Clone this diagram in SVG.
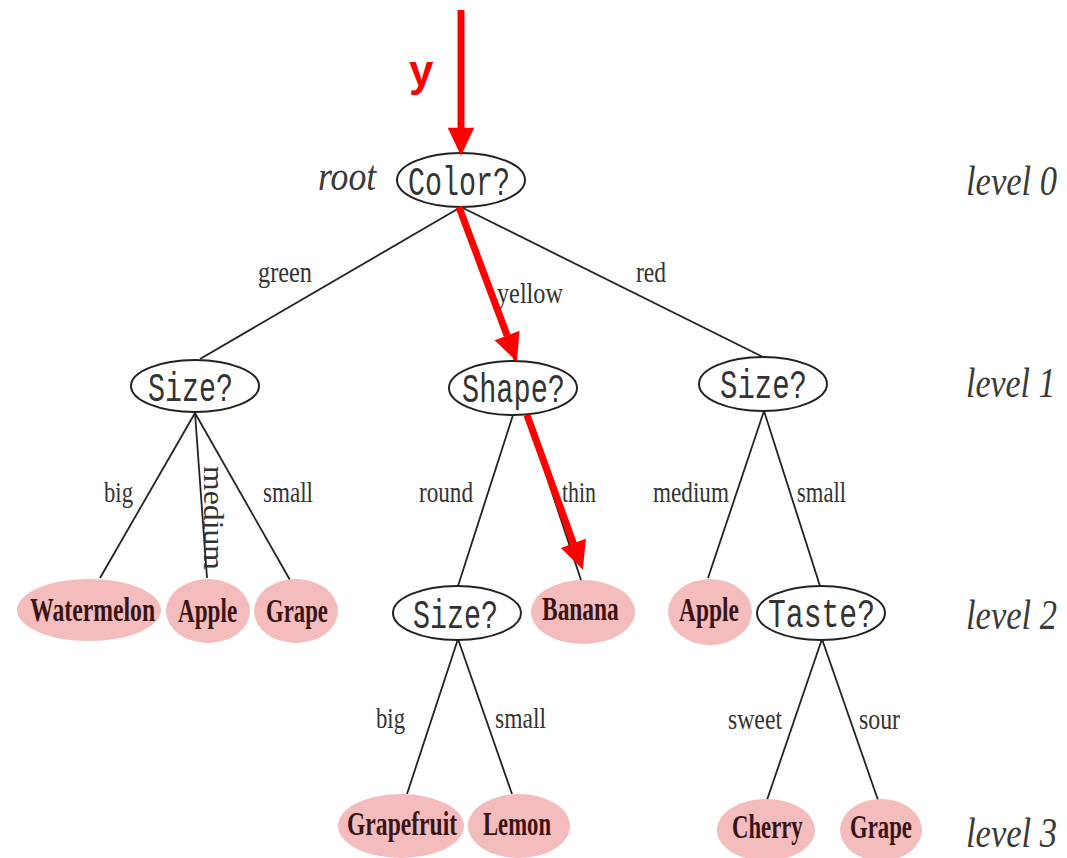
<svg xmlns="http://www.w3.org/2000/svg" width="1067" height="858" viewBox="0 0 1067 858">
<style>
.q{fill:#fff;stroke:#222;stroke-width:2}
.leaf{fill:#f4bcbc;stroke:none}
.qt{font-family:"Liberation Mono",monospace;font-size:40px;fill:#333}
.lt{font-family:"Liberation Serif",serif;font-weight:bold;font-size:34px;fill:#3a1414}
.el{font-family:"Liberation Serif",serif;font-size:30px;fill:#333}
.lv{font-family:"Liberation Serif",serif;font-style:italic;font-size:42px;fill:#3a3a3a}
.e{stroke:#222;stroke-width:1.8;fill:none}
.r{stroke:#f00;stroke-width:7;fill:none;marker-end:url(#ah)}
</style>
<defs>
<marker id="ah" markerUnits="strokeWidth" markerWidth="4" markerHeight="4" refX="0.05" refY="1.9" orient="auto" overflow="visible">
<path d="M0,0 L4,1.9 L0,3.8 z" fill="#f00"/>
</marker>
</defs>
<rect width="1067" height="858" fill="#fff"/>
<g id="connectors">
<line class="e" x1="461" y1="207" x2="200" y2="359"/>
<line class="e" x1="461" y1="207" x2="515" y2="361"/>
<line class="e" x1="461" y1="207" x2="763" y2="357"/>
<line class="e" x1="195" y1="413" x2="100" y2="578"/>
<line class="e" x1="195" y1="413" x2="207" y2="578"/>
<line class="e" x1="195" y1="413" x2="290" y2="580"/>
<line class="e" x1="513" y1="415" x2="458" y2="586"/>
<line class="e" x1="526" y1="414" x2="582" y2="583"/>
<line class="e" x1="764" y1="411" x2="708" y2="578"/>
<line class="e" x1="764" y1="411" x2="820" y2="586"/>
<line class="e" x1="458" y1="639" x2="407" y2="794"/>
<line class="e" x1="458" y1="639" x2="512" y2="794"/>
<line class="e" x1="822" y1="639" x2="767" y2="800"/>
<line class="e" x1="822" y1="639" x2="878" y2="800"/>
<g id="edge-labels">
<text class="el" x="258" y="282" textLength="54" lengthAdjust="spacingAndGlyphs">green</text>
<text class="el" x="497" y="303" textLength="66" lengthAdjust="spacingAndGlyphs">yellow</text>
<text class="el" x="636" y="282" textLength="30" lengthAdjust="spacingAndGlyphs">red</text>
<text class="el" x="104" y="502" textLength="29" lengthAdjust="spacingAndGlyphs">big</text>
<text class="el" transform="translate(204,466) rotate(90)" x="0" y="0" textLength="104" lengthAdjust="spacingAndGlyphs">medium</text>
<text class="el" x="263" y="502" textLength="50" lengthAdjust="spacingAndGlyphs">small</text>
<text class="el" x="419" y="502" textLength="54" lengthAdjust="spacingAndGlyphs">round</text>
<text class="el" x="562" y="502" textLength="34" lengthAdjust="spacingAndGlyphs">thin</text>
<text class="el" x="653" y="502" textLength="76" lengthAdjust="spacingAndGlyphs">medium</text>
<text class="el" x="797" y="502" textLength="49" lengthAdjust="spacingAndGlyphs">small</text>
<text class="el" x="376" y="728" textLength="29" lengthAdjust="spacingAndGlyphs">big</text>
<text class="el" x="495" y="728" textLength="51" lengthAdjust="spacingAndGlyphs">small</text>
<text class="el" x="728" y="729" textLength="54" lengthAdjust="spacingAndGlyphs">sweet</text>
<text class="el" x="859" y="729" textLength="41" lengthAdjust="spacingAndGlyphs">sour</text>
</g>
</g>
<g id="n-color"><ellipse class="q" cx="461" cy="180" rx="64" ry="27"/><text class="qt" x="408" y="195" textLength="102" lengthAdjust="spacingAndGlyphs">Color?</text></g>
<g id="n-size1"><ellipse class="q" cx="195" cy="386" rx="64" ry="26"/><text class="qt" x="148" y="401" textLength="85" lengthAdjust="spacingAndGlyphs">Size?</text></g>
<g id="n-shape"><ellipse class="q" cx="513" cy="388" rx="64" ry="27"/><text class="qt" x="462" y="402" textLength="103" lengthAdjust="spacingAndGlyphs">Shape?</text></g>
<g id="n-size2"><ellipse class="q" cx="763" cy="384" rx="64" ry="27"/><text class="qt" x="720" y="398" textLength="87" lengthAdjust="spacingAndGlyphs">Size?</text></g>
<g id="n-watermelon"><ellipse class="leaf" cx="89" cy="610" rx="72" ry="31"/><text class="lt" transform="translate(30,621) scale(0.68,1)" textLength="184" lengthAdjust="spacingAndGlyphs">Watermelon</text></g>
<g id="n-apple1"><ellipse class="leaf" cx="208" cy="611" rx="42" ry="32"/><text class="lt" transform="translate(178,622) scale(0.68,1)" textLength="87" lengthAdjust="spacingAndGlyphs">Apple</text></g>
<g id="n-grape1"><ellipse class="leaf" cx="296" cy="611" rx="42" ry="32"/><text class="lt" transform="translate(266,622) scale(0.68,1)" textLength="91" lengthAdjust="spacingAndGlyphs">Grape</text></g>
<g id="n-size3"><ellipse class="q" cx="457" cy="613" rx="64" ry="27"/><text class="qt" x="413" y="628" textLength="85" lengthAdjust="spacingAndGlyphs">Size?</text></g>
<g id="n-banana"><ellipse class="leaf" cx="583" cy="612" rx="52" ry="32"/><text class="lt" transform="translate(542,620) scale(0.68,1)" textLength="113" lengthAdjust="spacingAndGlyphs">Banana</text></g>
<g id="n-apple2"><ellipse class="leaf" cx="710" cy="612" rx="42" ry="33"/><text class="lt" transform="translate(679,621) scale(0.68,1)" textLength="88" lengthAdjust="spacingAndGlyphs">Apple</text></g>
<g id="n-taste"><ellipse class="q" cx="821" cy="613" rx="64" ry="27"/><text class="qt" x="768" y="627" textLength="107" lengthAdjust="spacingAndGlyphs">Taste?</text></g>
<g id="n-grapefruit"><ellipse class="leaf" cx="401" cy="826" rx="63" ry="32"/><text class="lt" transform="translate(347,835) scale(0.68,1)" textLength="162" lengthAdjust="spacingAndGlyphs">Grapefruit</text></g>
<g id="n-lemon"><ellipse class="leaf" cx="519" cy="826" rx="51" ry="32"/><text class="lt" transform="translate(483,835) scale(0.68,1)" textLength="100" lengthAdjust="spacingAndGlyphs">Lemon</text></g>
<g id="n-cherry"><ellipse class="leaf" cx="766" cy="830" rx="49" ry="31"/><text class="lt" transform="translate(732,838) scale(0.68,1)" textLength="104" lengthAdjust="spacingAndGlyphs">Cherry</text></g>
<g id="n-grape2"><ellipse class="leaf" cx="881" cy="830" rx="41" ry="31"/><text class="lt" transform="translate(850,838) scale(0.68,1)" textLength="91" lengthAdjust="spacingAndGlyphs">Grape</text></g>
<g id="red-path">
<line class="r" x1="461" y1="10" x2="461" y2="128"/>
<line class="r" x1="459" y1="207" x2="507.2" y2="335.8"/>
<line class="r" x1="527" y1="415" x2="573.5" y2="543.7"/>
<text x="409" y="86" font-family="Liberation Sans, sans-serif" font-weight="bold" font-size="44" fill="#f00">y</text>
</g>
<g id="annotations">
<text class="lv" transform="translate(318,190) scale(0.87,1)" font-size="40" textLength="67" lengthAdjust="spacingAndGlyphs">root</text>
<text class="lv" transform="translate(966,195) scale(0.82,1)" textLength="111" lengthAdjust="spacingAndGlyphs">level 0</text>
<text class="lv" transform="translate(966,397) scale(0.82,1)" textLength="109" lengthAdjust="spacingAndGlyphs">level 1</text>
<text class="lv" transform="translate(966,629) scale(0.82,1)" textLength="111" lengthAdjust="spacingAndGlyphs">level 2</text>
<text class="lv" transform="translate(966,847) scale(0.82,1)" textLength="111" lengthAdjust="spacingAndGlyphs">level 3</text>
</g>
</svg>
